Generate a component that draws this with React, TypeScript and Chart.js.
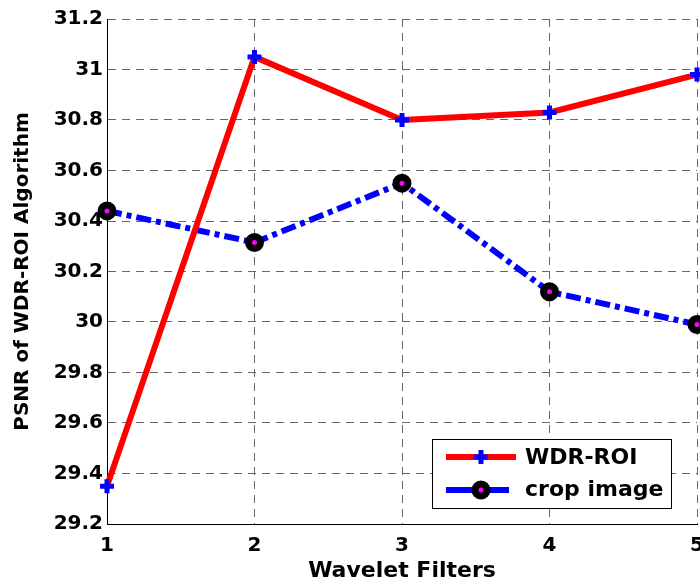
import React, { useEffect, useRef } from "react";
import { Chart, registerables } from "chart.js";

Chart.register(...registerables);

const categories = ["1", "2", "3", "4", "5"];
const wdrRoi = [29.35, 31.05, 30.8, 30.83, 30.98];
const cropImage = [30.44, 30.315, 30.55, 30.12, 29.99];
const yMin = 29.2;
const yMax = 31.2;
const yStep = 0.2;
const seriesNames = ["WDR-ROI", "crop image"];
const xTitle = "Wavelet Filters";
const yTitle = "PSNR of WDR-ROI Algorithm";

const FONT = "'DejaVu Sans', sans-serif";

const legendPlugin = {
  id: "boxLegend",
  afterDraw(chart: any) {
    const { ctx, chartArea } = chart;
    const right = chartArea.right - 25;
    const bottom = chartArea.bottom - 15;
    const w = 240;
    const h = 70;
    const left = right - w;
    const top = bottom - h;
    ctx.save();
    ctx.fillStyle = "#ffffff";
    ctx.fillRect(left, top, w, h);
    ctx.strokeStyle = "#000000";
    ctx.lineWidth = 1;
    ctx.strokeRect(left + 0.5, top + 0.5, w - 1, h - 1);

    const lx0 = left + 14;
    const lx1 = left + 84;
    const mx = left + 49;
    const y1 = top + 18;
    const y2 = top + 51;

    ctx.strokeStyle = "#ff0000";
    ctx.lineWidth = 6;
    ctx.beginPath();
    ctx.moveTo(lx0, y1);
    ctx.lineTo(lx1, y1);
    ctx.stroke();
    ctx.strokeStyle = "#0000ff";
    ctx.lineWidth = 5;
    ctx.beginPath();
    ctx.moveTo(mx - 7, y1);
    ctx.lineTo(mx + 7, y1);
    ctx.moveTo(mx, y1 - 7);
    ctx.lineTo(mx, y1 + 7);
    ctx.stroke();

    ctx.strokeStyle = "#0000ff";
    ctx.lineWidth = 6;
    ctx.beginPath();
    ctx.moveTo(lx0, y2);
    ctx.lineTo(lx1 - 7, y2);
    ctx.stroke();
    ctx.beginPath();
    ctx.arc(mx, y2, 6, 0, Math.PI * 2);
    ctx.fillStyle = "#ff00ff";
    ctx.fill();
    ctx.lineWidth = 7;
    ctx.strokeStyle = "#000000";
    ctx.stroke();

    ctx.fillStyle = "#000000";
    ctx.font = `bold 22px ${FONT}`;
    ctx.textAlign = "left";
    ctx.textBaseline = "middle";
    ctx.fillText(seriesNames[0], left + 93, y1 + 1);
    ctx.fillText(seriesNames[1], left + 93, y2);
    ctx.restore();
  },
};

export default function App() {
  const ref = useRef<HTMLCanvasElement>(null);
  useEffect(() => {
    if (!ref.current) return;
    const chart = new Chart(ref.current, {
      type: "line",
      data: {
        labels: categories,
        datasets: [
          {
            label: seriesNames[0],
            data: wdrRoi,
            borderColor: "#ff0000",
            borderWidth: 6,
            pointStyle: "cross",
            pointRadius: 7,
            pointBorderWidth: 5,
            pointBorderColor: "#0000ff",
            pointBackgroundColor: "#0000ff",
            tension: 0,
            clip: false as any,
          },
          {
            label: seriesNames[1],
            data: cropImage,
            borderColor: "#0000ff",
            borderWidth: 6,
            borderDash: [15, 5, 5, 5],
            pointStyle: "circle",
            pointRadius: 6,
            pointBorderWidth: 7,
            pointBorderColor: "#000000",
            pointBackgroundColor: "#ff00ff",
            tension: 0,
            clip: false as any,
          },
        ],
      },
      options: {
        animation: false,
        responsive: false,
        devicePixelRatio: 1,
        layout: { autoPadding: false, padding: { top: 19, right: 3, left: 0, bottom: 0 } },
        plugins: { legend: { display: false }, tooltip: { enabled: false } },
        scales: {
          x: {
            type: "category",
            offset: false,
            grid: {
              offset: false,
              color: "#666666",
              lineWidth: 1,
              drawTicks: false,
            },
            border: { display: true, color: "#000000", width: 1, dash: [8, 6] },
            ticks: {
              color: "#000000",
              font: { family: FONT, size: 20, weight: "bold" },
              padding: 10,
              maxRotation: 0,
              autoSkip: false,
            },
            title: {
              display: true,
              text: xTitle,
              color: "#000000",
              font: { family: FONT, size: 22, weight: "bold" },
              padding: { top: 0, bottom: 0 },
            },
            afterFit: (s: any) => {
              s.height = 60;
              s.paddingLeft = 0;
              s.paddingRight = 0;
            },
          },
          y: {
            type: "linear",
            min: yMin,
            max: yMax,
            grid: {
              color: "#666666",
              lineWidth: 1,
              drawTicks: false,
            },
            border: { display: true, color: "#000000", width: 1, dash: [8, 6] },
            ticks: {
              stepSize: yStep,
              color: "#000000",
              font: { family: FONT, size: 20, weight: "bold" },
              padding: 4,
              callback: (v: any) => String(Number(Number(v).toFixed(1))),
            },
            title: {
              display: true,
              text: yTitle,
              color: "#000000",
              font: { family: FONT, size: 20, weight: "bold" },
              padding: { top: 11, bottom: 0 },
            },
            afterFit: (s: any) => {
              s.width = 107;
              s.paddingTop = 0;
              s.paddingBottom = 0;
            },
          },
        },
      } as any,
      plugins: [legendPlugin],
    });
    return () => chart.destroy();
  }, []);
  return (
    <div style={{ position: "absolute", left: 0, top: 0, width: 700, height: 584, background: "#fff" }}>
      <canvas ref={ref} width={700} height={584} />
    </div>
  );
}
